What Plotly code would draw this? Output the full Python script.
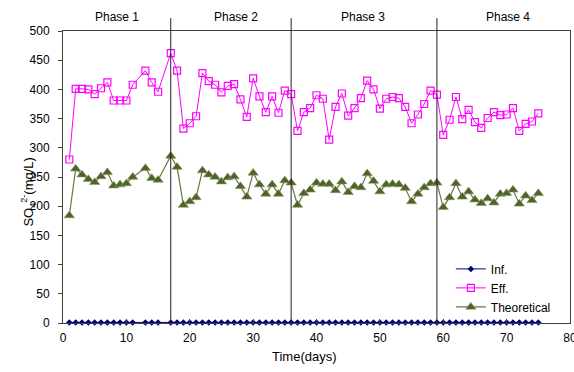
import plotly.graph_objects as go

days = list(range(1, 12)) + [13, 14, 15] + list(range(17, 76))

inf_vals = [1] * len(days)

eff_vals = [280, 401, 401, 400, 392, 402, 412, 381, 381, 381, 408,
            432, 412, 396,
            462, 432, 333, 342, 354, 428, 414, 408, 395, 406, 409, 383, 353, 419, 388, 361, 388, 360, 398,
            392, 329, 361, 368, 390, 384, 314, 370, 393, 355, 368, 385, 415, 400, 367, 384, 387, 385, 370,
            342, 357, 375, 398, 391, 322, 348, 387, 349, 365, 344, 334, 351, 361, 356, 357, 368, 329, 341,
            345, 359]

theo_vals = [184, 264, 254, 246, 241, 251, 258, 235, 237, 239, 250,
             265, 248, 245,
             286, 267, 202, 208, 215, 261, 254, 250, 242, 249, 251, 234, 216, 257, 237, 221, 237, 221, 244,
             240, 202, 222, 228, 240, 238, 238, 227, 242, 224, 234, 232, 256, 243, 225, 237, 238, 237, 231,
             208, 221, 232, 239, 240, 198, 215, 239, 216, 225, 211, 205, 213, 206, 221, 222, 228, 204, 218,
             210, 222]

phase_bounds = [17, 36, 59]
phase_labels = ["Phase 1", "Phase 2", "Phase 3", "Phase 4"]
phase_label_x = [8.5, 27.3, 47.3, 70.2]

x_ticks = [0, 10, 20, 30, 40, 50, 60, 70, 80]
y_ticks = [0, 50, 100, 150, 200, 250, 300, 350, 400, 450, 500]

FONT = "Liberation Sans Narrow, Liberation Sans, Arial, sans-serif"
AX = "#404040"

fig = go.Figure()
fig.add_trace(go.Scatter(x=days, y=inf_vals, name="Inf.", mode="lines+markers",
                         line=dict(color="#000080", width=1),
                         marker=dict(symbol="diamond", size=5, color="#000080"),
                         cliponaxis=False))
fig.add_trace(go.Scatter(x=days, y=eff_vals, name="Eff.", mode="lines+markers",
                         line=dict(color="#FF00FF", width=1),
                         marker=dict(symbol="square-open", size=7, color="#FF00FF",
                                     line=dict(width=1.2, color="#FF00FF")),
                         cliponaxis=False))
fig.add_trace(go.Scatter(x=days, y=theo_vals, name="Theoretical", mode="lines+markers",
                         line=dict(color="#66793F", width=1.2),
                         marker=dict(symbol="triangle-up", size=9, color="#4F6228",
                                     line=dict(width=0.6, color="#8A9A6A")),
                         cliponaxis=False))

for b in phase_bounds:
    fig.add_shape(type="line", xref="x", yref="paper", x0=b, x1=b, y0=0, y1=1.044,
                  line=dict(color="#202020", width=1))

for lab, xl in zip(phase_labels, phase_label_x):
    fig.add_annotation(text=lab, x=xl, xref="x", y=1.049, yref="paper",
                       showarrow=False, font=dict(size=12, family=FONT, color="#000000"),
                       yanchor="middle")

fig.add_annotation(text="Time(days)", x=0.477, xref="paper", y=-0.115, yref="paper",
                   showarrow=False, yanchor="middle",
                   font=dict(size=13, family=FONT, color="#000000"))
fig.add_annotation(text="SO<sub>4</sub><sup>2-</sup>(mg/L)", x=-0.069, xref="paper",
                   y=0.45, yref="paper", showarrow=False, textangle=-90,
                   xanchor="center", yanchor="middle",
                   font=dict(size=13, family=FONT, color="#000000"))

fig.update_layout(
    width=574, height=372,
    margin=dict(l=63, r=4, t=31, b=49, autoexpand=False),
    plot_bgcolor="white", paper_bgcolor="white",
    font=dict(family=FONT, size=12, color="#000000"),
    showlegend=True,
    legend=dict(x=0.765, y=0.235, xanchor="left", yanchor="top",
                bgcolor="rgba(0,0,0,0)", borderwidth=0,
                font=dict(size=12, family=FONT), tracegroupgap=0,
                itemwidth=30),
    xaxis=dict(range=[0, 80], tickvals=x_ticks, ticks="inside", ticklen=4,
               showline=True, linecolor=AX, linewidth=1, mirror=True,
               showgrid=False, zeroline=False, tickcolor=AX, automargin=False,
               ticklabelstandoff=4, ticklabeloverflow="allow"),
    yaxis=dict(range=[0, 500], tickvals=y_ticks, ticks="outside", ticklen=4,
               showline=True, linecolor=AX, linewidth=1, mirror=True,
               showgrid=False, zeroline=False, tickcolor=AX, automargin=False,
               ticklabelstandoff=6),
)

fig.write_html("out.html")
